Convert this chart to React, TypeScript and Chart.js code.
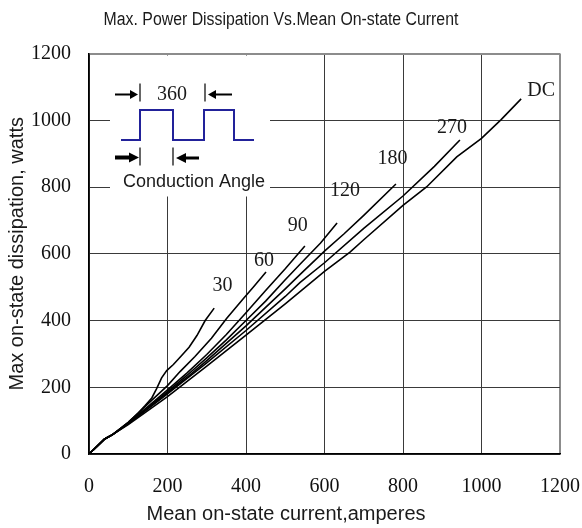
import React, { useEffect, useRef } from "react";
import { Chart, registerables } from "chart.js";

Chart.register(...registerables);

// ---------- data ----------
const titleText = "Max. Power Dissipation Vs.Mean On-state Current";
const xAxisTitle = "Mean on-state current,amperes";
const yAxisTitle = "Max on-state dissipation, watts";

const currentTicks = [0, 200, 400, 600, 800, 1000, 1200];
const powerTicks = [0, 200, 400, 600, 800, 1000, 1200];

const seriesNames = ["30", "60", "90", "120", "180", "270", "DC"];

const current30 = [0, 40, 60, 100, 125, 143, 160, 172, 185, 198, 215, 232, 255, 275, 296, 319];
const power30 = [0, 45, 58, 95, 122, 145, 168, 195, 228, 250, 268, 290, 320, 355, 400, 437];

const current60 = [0, 40, 60, 100, 150, 200, 232, 270, 312, 351, 393, 420, 451];
const power60 = [0, 45, 58, 95, 150, 205, 247, 292, 347, 407, 465, 502, 545];

const current90 = [0, 40, 60, 100, 150, 200, 250, 300, 350, 400, 450, 500, 550];
const power90 = [0, 45, 58, 93, 142, 192, 243, 298, 358, 423, 490, 555, 623];

const current120 = [0, 40, 60, 100, 150, 200, 250, 300, 350, 400, 450, 500, 537, 590, 632];
const power120 = [0, 45, 58, 92, 139, 187, 236, 288, 342, 400, 458, 522, 568, 632, 692];

const current180 = [0, 40, 60, 100, 150, 200, 250, 300, 400, 500, 538, 600, 650, 700, 782];
const power180 = [0, 45, 58, 91, 137, 183, 230, 280, 384, 495, 538, 608, 660, 715, 809];

const current270 = [0, 40, 60, 100, 150, 200, 300, 400, 500, 538, 600, 700, 800, 880, 945];
const power270 = [0, 45, 58, 90, 135, 180, 273, 370, 472, 514, 573, 676, 773, 862, 941];

const currentDC = [0, 40, 60, 100, 150, 200, 300, 400, 500, 600, 665, 700, 800, 860, 937, 1000, 1050, 1101];
const powerDC = [0, 45, 58, 88, 130, 172, 263, 356, 450, 547, 605, 642, 745, 800, 890, 946, 1002, 1064];

// label anchor positions (data units)
const labelCurrent = [340, 446, 532, 652, 773, 925, 1152];
const labelPower = [505, 578, 683, 788, 884, 978, 1088];

const seriesCurrents = [current30, current60, current90, current120, current180, current270, currentDC];
const seriesPowers = [power30, power60, power90, power120, power180, power270, powerDC];

// ---------- drawing helpers ----------
function arrow(ctx: CanvasRenderingContext2D, x0: number, x1: number, y: number, lw: number, head: number, half: number) {
  const dir = x1 > x0 ? 1 : -1;
  const base = x1 - dir * head;
  ctx.beginPath();
  ctx.lineWidth = lw;
  ctx.moveTo(x0, y);
  ctx.lineTo(base, y);
  ctx.stroke();
  ctx.beginPath();
  ctx.moveTo(x1, y);
  ctx.lineTo(base, y - half);
  ctx.lineTo(base, y + half);
  ctx.closePath();
  ctx.fill();
}

const overlayPlugin = {
  id: "overlay",
  afterDraw(chart: any) {
    const { ctx, chartArea, scales } = chart;
    const xs = scales.x;
    const ys = scales.y;
    ctx.save();
    ctx.fillStyle = "#1a1a1a";
    ctx.textAlign = "center";
    ctx.textBaseline = "middle";

    // title (condensed look)
    ctx.save();
    ctx.translate(281, 20);
    ctx.scale(0.88, 1);
    ctx.font = '18px "Liberation Sans", Arial, sans-serif';
    ctx.fillText(titleText, 0, 0);
    ctx.restore();

    // axis titles
    ctx.font = '20px "Liberation Sans", Arial, sans-serif';
    ctx.fillText(xAxisTitle, 286, 514);
    ctx.save();
    ctx.translate(17, (chartArea.top + chartArea.bottom) / 2);
    ctx.rotate(-Math.PI / 2);
    ctx.fillText(yAxisTitle, 0, 0);
    ctx.restore();

    // curve labels
    ctx.font = '20px "Liberation Serif", serif';
    seriesNames.forEach((name, i) => {
      ctx.fillText(name, xs.getPixelForValue(labelCurrent[i]), ys.getPixelForValue(labelPower[i]));
    });

    // inset
    const L = chartArea.left;
    const T = chartArea.top;
    ctx.fillStyle = "#ffffff";
    ctx.fillRect(L + 21, T + 2, 160, 141);

    ctx.strokeStyle = "#22229a";
    ctx.lineWidth = 2;
    ctx.beginPath();
    const lo = T + 86.5;
    const hi = T + 56.5;
    ctx.moveTo(L + 32, lo);
    ctx.lineTo(L + 51, lo);
    ctx.lineTo(L + 51, hi);
    ctx.lineTo(L + 84, hi);
    ctx.lineTo(L + 84, lo);
    ctx.lineTo(L + 115, lo);
    ctx.lineTo(L + 115, hi);
    ctx.lineTo(L + 145, hi);
    ctx.lineTo(L + 145, lo);
    ctx.lineTo(L + 165, lo);
    ctx.stroke();

    ctx.strokeStyle = "#000";
    ctx.fillStyle = "#000";
    ctx.lineWidth = 1.2;
    ctx.beginPath();
    ctx.moveTo(L + 51, T + 30);
    ctx.lineTo(L + 51, T + 48);
    ctx.moveTo(L + 116, T + 30);
    ctx.lineTo(L + 116, T + 48);
    ctx.stroke();
    arrow(ctx, L + 26, L + 49, T + 41, 2, 8, 4.5);
    arrow(ctx, L + 143, L + 119, T + 41, 2, 8, 4.5);
    ctx.lineWidth = 1.2;
    ctx.beginPath();
    ctx.moveTo(L + 51, T + 94);
    ctx.lineTo(L + 51, T + 112);
    ctx.moveTo(L + 84, T + 94);
    ctx.lineTo(L + 84, T + 112);
    ctx.stroke();
    arrow(ctx, L + 26, L + 50, T + 104, 4, 10, 5);
    arrow(ctx, L + 110, L + 87, T + 104.5, 3, 10, 5);

    ctx.fillStyle = "#1a1a1a";
    ctx.font = '20px "Liberation Serif", serif';
    ctx.fillText("360", L + 83, T + 41);
    ctx.font = '18px "Liberation Sans", Arial, sans-serif';
    ctx.fillText("Conduction Angle", L + 105, T + 129);

    ctx.restore();
  },
};

export default function App() {
  const canvasRef = useRef<HTMLCanvasElement | null>(null);

  useEffect(() => {
    document.body.style.margin = "0";
    const canvas = canvasRef.current;
    if (!canvas) return;

    const datasets = seriesNames.map((name, i) => ({
      label: name,
      data: seriesCurrents[i].map((c, j) => ({ x: c, y: seriesPowers[i][j] })),
      borderColor: "#000000",
      backgroundColor: "#000000",
      borderWidth: 1.6,
      pointRadius: 0,
      tension: 0,
      fill: false,
    }));

    const gridColor = (edge: number) => (c: any) =>
      c.tick && c.tick.value === edge ? "#8c8c8c" : "#3a3a3a";
    const gridWidth = (edge: number) => (c: any) => (c.tick && c.tick.value === edge ? 2 : 1);
    const plain = (v: any) => String(v);

    const chart = new Chart(canvas, {
      type: "line",
      data: { datasets },
      plugins: [overlayPlugin],
      options: {
        responsive: false,
        animation: false,
        devicePixelRatio: 1,
        layout: { padding: { left: 0, right: 22, top: 53.5, bottom: 0 } },
        plugins: {
          legend: { display: false },
          tooltip: { enabled: false },
          title: { display: false },
        },
        scales: {
          x: {
            type: "linear",
            min: currentTicks[0],
            max: currentTicks[currentTicks.length - 1],
            afterBuildTicks: (s: any) => {
              s.ticks = currentTicks.map((v) => ({ value: v }));
            },
            afterFit: (s: any) => {
              s.height = 74;
              s.paddingLeft = 0;
              s.paddingRight = 0;
            },
            grid: { color: gridColor(1200), lineWidth: gridWidth(1200), drawTicks: false },
            border: { display: true, color: "#000", width: 1.5 },
            ticks: {
              padding: 21,
              color: "#111",
              font: { family: '"Liberation Serif", serif', size: 20 },
              maxRotation: 0,
              callback: plain,
            },
          },
          y: {
            type: "linear",
            min: powerTicks[0],
            max: powerTicks[powerTicks.length - 1],
            afterBuildTicks: (s: any) => {
              s.ticks = powerTicks.map((v) => ({ value: v }));
            },
            afterFit: (s: any) => {
              s.width = 89;
              s.paddingTop = 0;
              s.paddingBottom = 0;
            },
            grid: { color: gridColor(1200), lineWidth: gridWidth(1200), drawTicks: false },
            border: { display: true, color: "#000", width: 1.5 },
            ticks: {
              padding: 18,
              color: "#111",
              font: { family: '"Liberation Serif", serif', size: 20 },
              callback: plain,
            },
          },
        },
      },
    } as any);

    return () => chart.destroy();
  }, []);

  return (
    <div style={{ width: 582, height: 528, position: "relative", background: "#fff" }}>
      <canvas ref={canvasRef} width={582} height={528} style={{ display: "block" }} />
    </div>
  );
}
